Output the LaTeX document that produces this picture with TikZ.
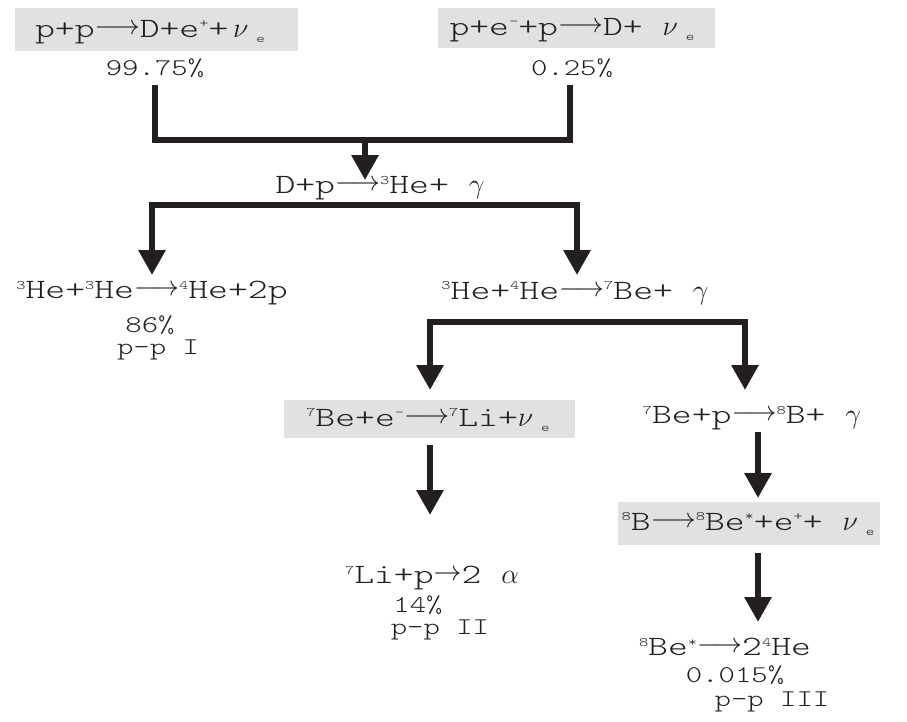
\documentclass[tikz,border=0pt]{standalone}
\usepackage{fix-cm}
\usepackage{fontspec}
\usetikzlibrary{arrows.meta}
\newfontfamily\rxfont{lmmonolt10-regular.otf}[FakeStretch=1.35]
\newfontfamily\pcfont{lmmonolt10-regular.otf}[FakeStretch=1.3]
\definecolor{boxgray}{RGB}{224,225,227}
\definecolor{ink}{RGB}{35,31,32}
\newcommand{\upx}[1]{\raisebox{9.5pt}{\fontsize{13}{13}\selectfont #1}}
\newcommand{\dnx}[1]{\raisebox{-5pt}{\fontsize{12}{12}\selectfont #1}}
\newcommand{\arr}{\raisebox{3pt}{$\longrightarrow$}}
\newcommand{\sarr}{\raisebox{3pt}{$\rightarrow$}}
\tikzset{
  rx/.style={inner sep=0pt, text=ink, font=\rxfont\fontsize{28}{30}\selectfont},
  pc/.style={inner sep=0pt, text=ink, font=\pcfont\fontsize{24}{26}\selectfont},
  gbox/.style={fill=boxgray, draw=none},
  conn/.style={line width=6pt, draw=ink, line join=miter},
  arr/.style={conn, -{Triangle[length=25pt,width=26pt]}}
}
\begin{document}
\begin{tikzpicture}[x=1pt,y=-1pt]
\path[fill=white] (0,0) rectangle (907,721);
\useasboundingbox (0,0) rectangle (907,721);
% grey boxes
\node[gbox, minimum width=283pt, minimum height=43pt] (b1) at (156.5,29.5) {};
\node[gbox, minimum width=277pt, minimum height=40pt] (b2) at (576,28) {};
\node[gbox, minimum width=291pt, minimum height=38pt] (b3) at (429.5,419) {};
\node[gbox, minimum width=262pt, minimum height=43pt] (b4) at (749,523.5) {};
% reactions
\node[rx] (r1) at (150,32) {p+p\arr D+e\upx{+}+\,$\nu$\hspace{8pt}\dnx{e}};
\node[rx] (r2) at (572,30) {p+e\upx{-}+p\arr D+\ $\nu$\hspace{8pt}\dnx{e}};
\node[rx] (r3) at (380,188) {D+p\arr\upx{3}He+ $\gamma$};
\node[rx] (r4) at (152,293) {\upx{3}He+\upx{3}He\arr\upx{4}He+2p};
\node[rx] (r5) at (575,293) {\upx{3}He+\upx{4}He\arr\upx{7}Be+ $\gamma$};
\node[rx] (r6) at (428,420) {\upx{7}Be+e\upx{-}\arr\upx{7}Li+$\nu$\hspace{8pt}\dnx{e}};
\node[rx] (r7) at (752,418) {\upx{7}Be+p\arr\upx{8}B+ $\gamma$};
\node[rx] (r8) at (748,524) {\upx{8}B\arr\upx{8}Be\upx{*}+e\upx{+}+ $\nu$\hspace{8pt}\dnx{e}};
\node[rx] (r9) at (432,578) {\upx{7}Li+p\sarr 2 $\alpha$};
\node[rx] (r10) at (725,647) {\upx{8}Be\upx{*}\arr 2\upx{4}He};
% percentages and labels
\node[pc] (p1) at (155,68) {99.75\%};
\node[pc] (p2) at (572,68) {0.25\%};
\node[pc] (p4a) at (150,325) {86\%};
\node[pc] (p4b) at (158,350) {p-p I};
\node[pc] (p9a) at (418,605) {14\%};
\node[pc] (p9b) at (440,630) {p-p II};
\node[pc] (p10a) at (735,675) {0.015\%};
\node[pc] (p10b) at (772,702) {p-p III};
% connectors
\coordinate (a1) at (155,85);
\coordinate (a2) at (570,85);
\coordinate (j1) at (365,140);
\coordinate (t1) at (365,180);
\draw[conn] (a1) |- (j1) -| (a2);
\draw[arr] (j1) -- (t1);
\coordinate (j2) at (365,205);
\coordinate (t2a) at (152,275);
\coordinate (t2b) at (577,275);
\draw[arr] (j2) -| (t2a);
\draw[arr] (j2) -| (t2b);
\coordinate (j3) at (587,322);
\coordinate (t3a) at (430,390);
\coordinate (t3b) at (745,390);
\draw[arr] (j3) -| (t3a);
\draw[arr] (j3) -| (t3b);
\coordinate (s4) at (430,445);
\coordinate (t4) at (430,515);
\draw[arr] (s4) -- (t4);
\coordinate (s5) at (758,432);
\coordinate (t5) at (758,498);
\draw[arr] (s5) -- (t5);
\coordinate (s6) at (758,553);
\coordinate (t6) at (758,622);
\draw[arr] (s6) -- (t6);
\end{tikzpicture}
\end{document}
